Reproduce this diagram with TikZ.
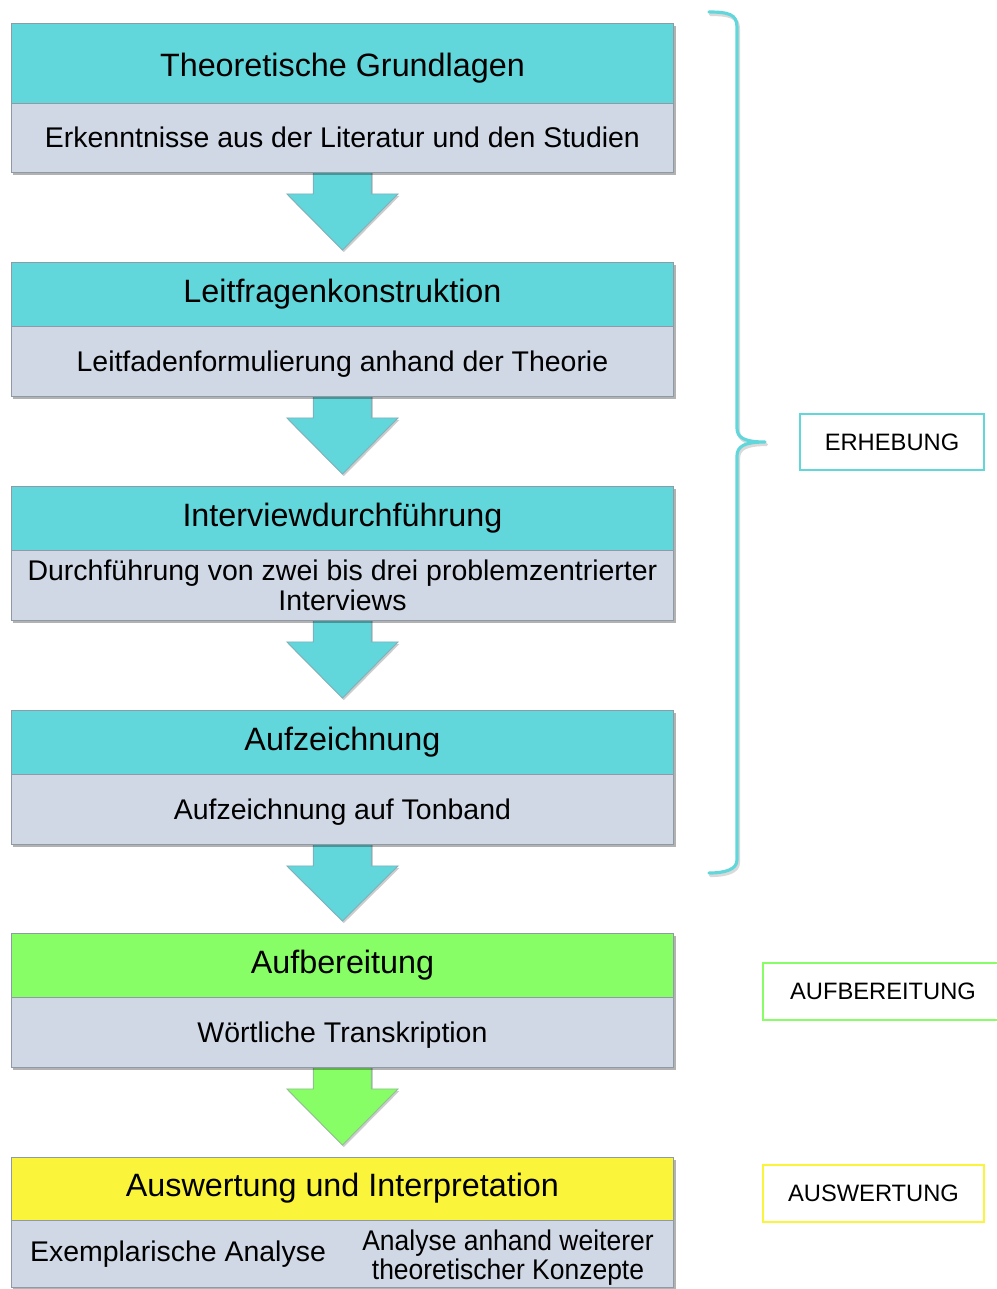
\documentclass[tikz,border=0pt]{standalone}
\usepackage{fontspec}
\setmainfont{Liberation Sans}
\usetikzlibrary{shadows,calc}
\pgfdeclarelayer{background}
\pgfdeclarelayer{paper}
\pgfsetlayers{paper,background,main}
\definecolor{cteal}{HTML}{62D7DB}
\definecolor{cgray}{HTML}{D0D7E5}
\definecolor{cgreen}{HTML}{88FE66}
\definecolor{cyellow}{HTML}{FAF53A}
\definecolor{cedge}{HTML}{8E9AA6}
\tikzset{
 shad/.style={drop shadow={shadow xshift=1.2pt, shadow yshift=-1.5pt, opacity=0.3, fill=black}},
 ashad/.style={drop shadow={shadow xshift=0.8pt, shadow yshift=-1.2pt, opacity=0.2, fill=black}},
 boxpart/.style={draw=cedge, line width=0.5pt, minimum width=13.26cm, anchor=north west, outer sep=0pt, inner sep=0pt, shad},
 head/.style={boxpart, font=\fontsize{18.4}{21}\selectfont},
 sub/.style={boxpart, fill=cgray, font=\fontsize{16.2}{16.8}\selectfont, align=center, text depth=0pt},
 plain/.style={font=\fontsize{16.2}{16.8}\selectfont, align=center, inner sep=0pt},
 lab/.style={draw, line width=1.3pt, fill=white, minimum height=1.14cm, font=\fontsize{13.5}{15}\selectfont},
 barrow/.style={fill=#1, draw=cedge!60!#1, line width=0.5pt, ashad},
 bracestyle/.style={draw=cteal, line width=1.8pt, line cap=round, line join=round},
}
\newcommand{\flowarrow}[3]{%
 \path[barrow=#3] ($(#1.south)+(-29,-4)$) -- ($(#1.south)+(-29,22)$) -- ($(#1.south)+(-55.5,22)$)
   -- ($(#2.north)+(0,-12)$) -- ($(#1.south)+(55.5,22)$) -- ($(#1.south)+(29,22)$) -- ($(#1.south)+(29,-4)$) -- cycle;}
\newcommand{\bracepath}{(709,12) .. controls (728,12) and (737,14) .. (737,27) -- (737,428) .. controls (737,438) and (745,442) .. (765,442) .. controls (745,442) and (737,446) .. (737,456) -- (737,860) .. controls (737,869) and (726,873) .. (709,873)}
\begin{document}
\begin{tikzpicture}[x=0.02cm,y=-0.02cm]
\useasboundingbox (0,0) rectangle (997,1289);
\begin{pgfonlayer}{paper}
\fill[white] (0,0) rectangle (997,1289);
\end{pgfonlayer}
% blocks
\node[head, fill=cteal, minimum height=1.6cm] (h1) at (11,23) {\raisebox{-7.5pt}[0pt][0pt]{Theoretische Grundlagen}};
\node[sub, minimum height=1.38cm] (s1) at (h1.south west) {Erkenntnisse aus der Literatur und den Studien};
\node[head, fill=cteal, minimum height=1.28cm] (h2) at (11,262) {Leitfragenkonstruktion};
\node[sub, minimum height=1.4cm] (s2) at (h2.south west) {Leitfadenformulierung anhand der Theorie};
\node[head, fill=cteal, minimum height=1.28cm] (h3) at (11,486) {Interviewdurchführung};
\node[sub, minimum height=1.4cm] (s3) at (h3.south west) {Durchführung von zwei bis drei problemzentrierter\\Interviews};
\node[head, fill=cteal, minimum height=1.28cm] (h4) at (11,710) {Aufzeichnung};
\node[sub, minimum height=1.4cm] (s4) at (h4.south west) {Aufzeichnung auf Tonband};
\node[head, fill=cgreen, minimum height=1.28cm] (h5) at (11,933) {Aufbereitung};
\node[sub, minimum height=1.4cm] (s5) at (h5.south west) {Wörtliche Transkription};
\node[head, fill=cyellow, minimum height=1.26cm] (h6) at (11,1157) {Auswertung und Interpretation};
\node[sub, minimum height=1.34cm] (s6) at (h6.south west) {};
\node[plain] (e1) at (178,1254) {Exemplarische Analyse};
\node[plain] (e2) at (508,1259) {\scalebox{0.93}[1]{\begin{tabular}{@{}c@{}}Analyse anhand weiterer\\theoretischer Konzepte\end{tabular}}};
% arrows
\begin{pgfonlayer}{background}
\flowarrow{s1}{h2}{cteal}
\flowarrow{s2}{h3}{cteal}
\flowarrow{s3}{h4}{cteal}
\flowarrow{s4}{h5}{cteal}
\flowarrow{s5}{h6}{cgreen}
\end{pgfonlayer}
% brace
\draw[bracestyle, draw=black!15, shift={(1.5,2.5)}] \bracepath;
\draw[bracestyle] \bracepath;
% labels
\node[lab, draw=cteal, minimum width=3.68cm, minimum height=1.12cm] (l1) at (892,442) {ERHEBUNG};
\node[lab, draw=cgreen, minimum width=4.8cm] (l2) at (883,991.5) {AUFBEREITUNG};
\node[lab, draw=cyellow, minimum width=4.42cm] (l3) at (873.5,1193.5) {AUSWERTUNG};
\end{tikzpicture}
\end{document}
